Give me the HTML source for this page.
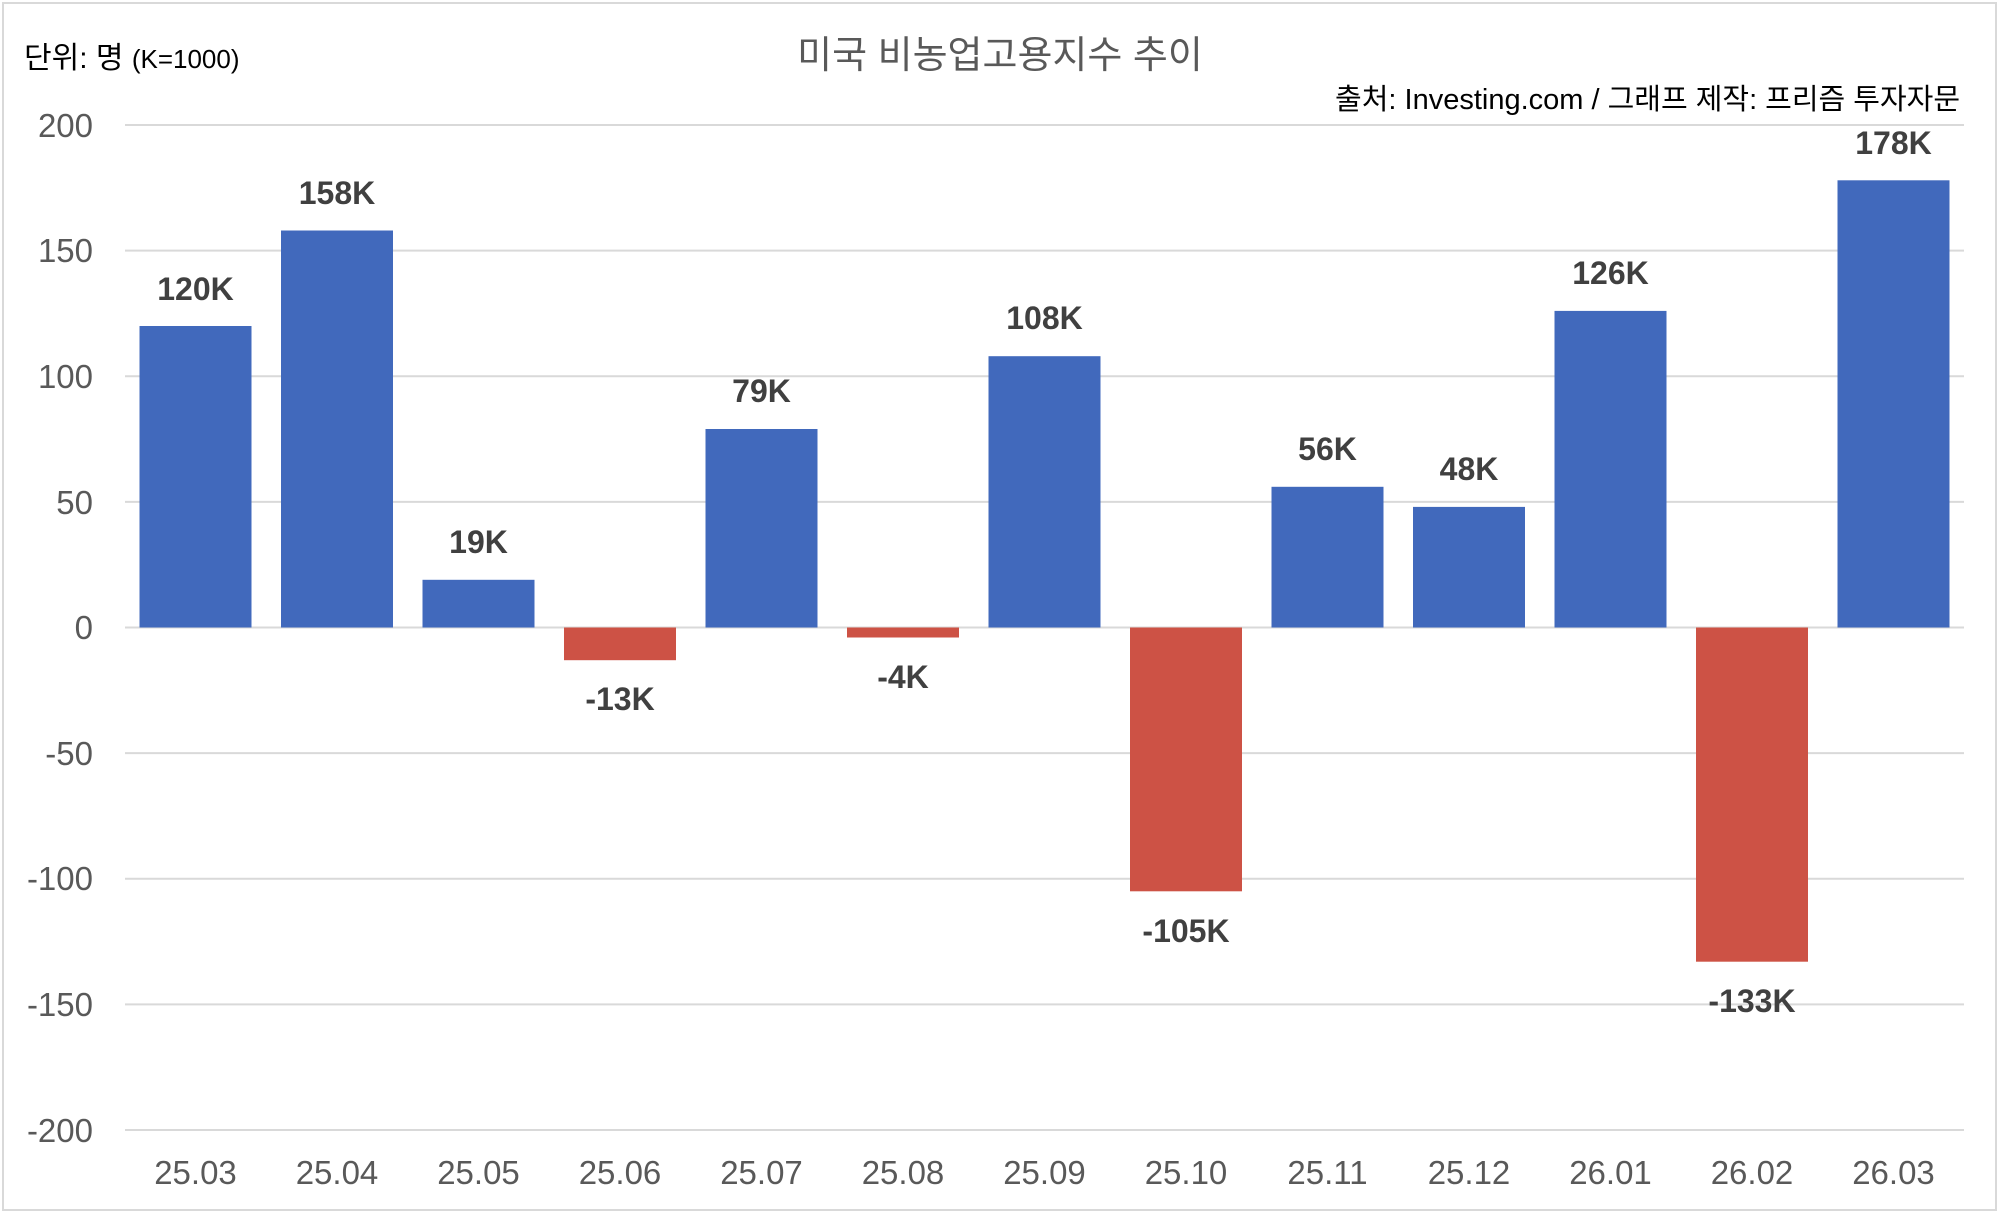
<!DOCTYPE html>
<html><head><meta charset="utf-8"><style>
html,body{margin:0;padding:0;background:#fff;}
svg{display:block;font-family:"Liberation Sans","Noto Sans CJK KR",sans-serif;}
</style></head><body>
<svg width="2000" height="1215" viewBox="0 0 2000 1215" xmlns="http://www.w3.org/2000/svg">
<rect x="3" y="3" width="1993" height="1207" fill="#fff" stroke="#d9d9d9" stroke-width="2"/>
<text x="1000" y="68" font-size="38" fill="#595959" text-anchor="middle">미국 비농업고용지수 추이</text>
<text x="24" y="68" font-size="30" fill="#000">단위: 명 <tspan font-size="26">(K=1000)</tspan></text>
<text x="1960" y="109" font-size="29" fill="#000" text-anchor="end">출처: Investing.com / 그래프 제작: 프리즘 투자자문</text>
<g stroke="#d9d9d9" stroke-width="2">
<line x1="125" x2="1964" y1="125" y2="125"/>
<line x1="125" x2="1964" y1="250.6" y2="250.6"/>
<line x1="125" x2="1964" y1="376.3" y2="376.3"/>
<line x1="125" x2="1964" y1="501.9" y2="501.9"/>
<line x1="125" x2="1964" y1="627.5" y2="627.5"/>
<line x1="125" x2="1964" y1="753.1" y2="753.1"/>
<line x1="125" x2="1964" y1="878.8" y2="878.8"/>
<line x1="125" x2="1964" y1="1004.4" y2="1004.4"/>
<line x1="125" x2="1964" y1="1130" y2="1130"/>
</g>
<g font-size="33" fill="#595959" text-anchor="end">
<text x="93" y="137">200</text>
<text x="93" y="262">150</text>
<text x="93" y="388">100</text>
<text x="93" y="514">50</text>
<text x="93" y="639">0</text>
<text x="93" y="765">-50</text>
<text x="93" y="890">-100</text>
<text x="93" y="1016">-150</text>
<text x="93" y="1142">-200</text>
</g>
<g id="bars"></g>
<g font-size="33" fill="#595959" text-anchor="middle">
<text x="195.5" y="1184">25.03</text><text x="337" y="1184">25.04</text><text x="478.5" y="1184">25.05</text><text x="620" y="1184">25.06</text><text x="761.5" y="1184">25.07</text><text x="903" y="1184">25.08</text><text x="1044.5" y="1184">25.09</text><text x="1186" y="1184">25.10</text><text x="1327.5" y="1184">25.11</text><text x="1469" y="1184">25.12</text><text x="1610.5" y="1184">26.01</text><text x="1752" y="1184">26.02</text><text x="1893.5" y="1184">26.03</text>
</g>
<g font-size="32" font-weight="bold" fill="#404040" text-anchor="middle">
<rect x="139.5" y="326" width="112" height="301.5" fill="#4169BC"/><text x="195.5" y="300">120K</text>
<rect x="281" y="230.5" width="112" height="397" fill="#4169BC"/><text x="337" y="204">158K</text>
<rect x="422.5" y="579.8" width="112" height="47.7" fill="#4169BC"/><text x="478.5" y="553">19K</text>
<rect x="564" y="627.5" width="112" height="32.7" fill="#CD5245"/><text x="620" y="710">-13K</text>
<rect x="705.5" y="429" width="112" height="198.5" fill="#4169BC"/><text x="761.5" y="402">79K</text>
<rect x="847" y="627.5" width="112" height="10" fill="#CD5245"/><text x="903" y="688">-4K</text>
<rect x="988.5" y="356.2" width="112" height="271.3" fill="#4169BC"/><text x="1044.5" y="329">108K</text>
<rect x="1130" y="627.5" width="112" height="263.8" fill="#CD5245"/><text x="1186" y="942">-105K</text>
<rect x="1271.5" y="486.8" width="112" height="140.7" fill="#4169BC"/><text x="1327.5" y="460">56K</text>
<rect x="1413" y="506.9" width="112" height="120.6" fill="#4169BC"/><text x="1469" y="480">48K</text>
<rect x="1554.5" y="310.9" width="112" height="316.6" fill="#4169BC"/><text x="1610.5" y="284">126K</text>
<rect x="1696" y="627.5" width="112" height="334.2" fill="#CD5245"/><text x="1752" y="1012">-133K</text>
<rect x="1837.5" y="180.3" width="112" height="447.2" fill="#4169BC"/><text x="1893.5" y="154">178K</text>
</g>
</svg>
</body></html>
